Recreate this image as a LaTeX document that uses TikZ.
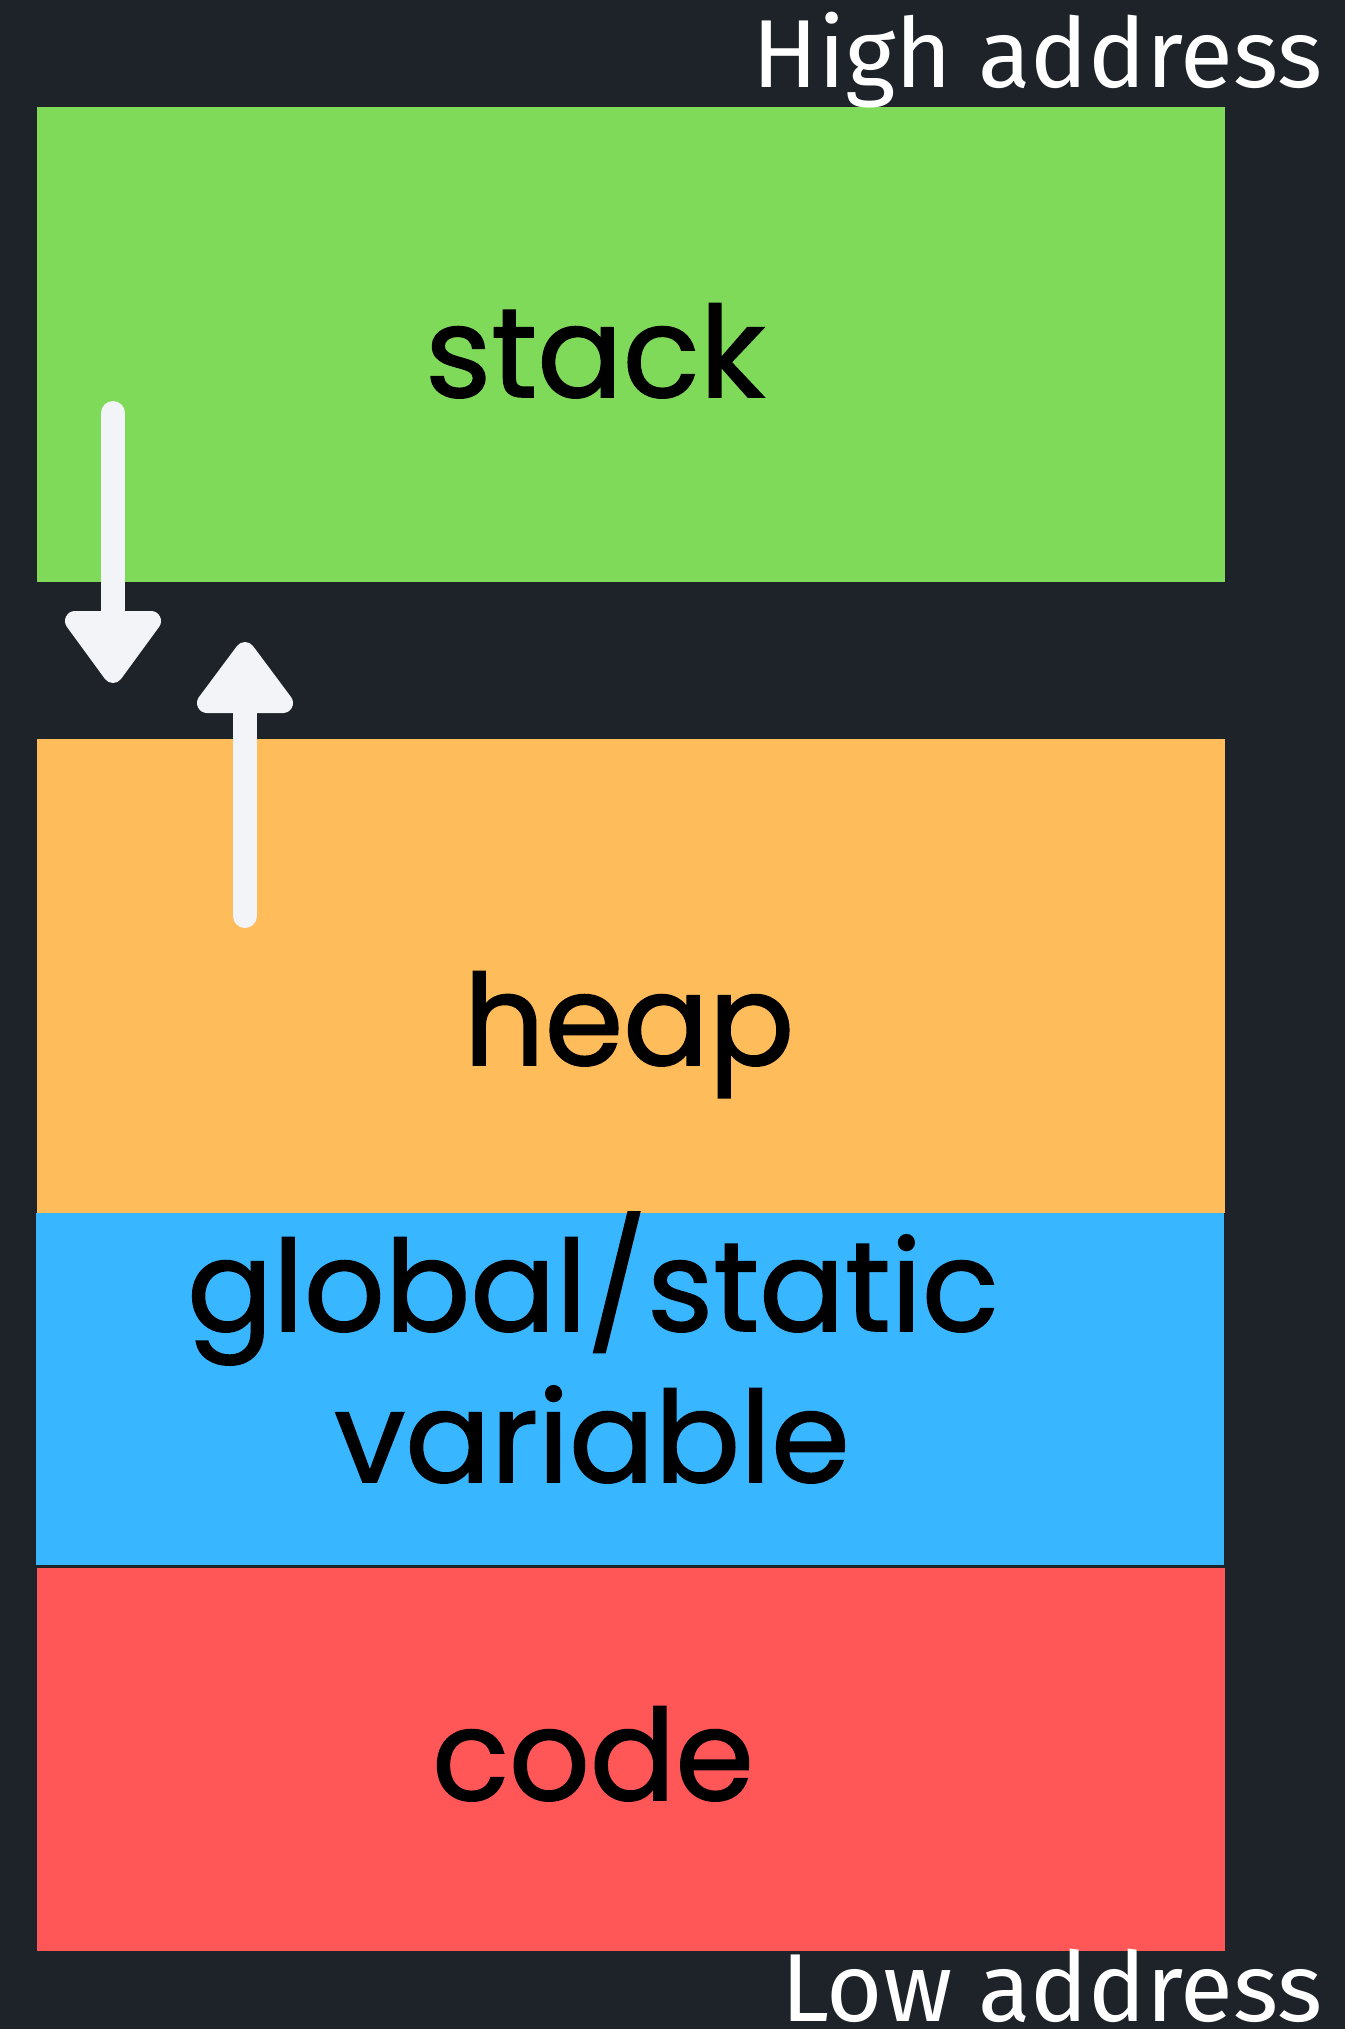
\documentclass[tikz,border=0pt]{standalone}
\usepackage{fontspec}
\newfontfamily\segfont[BoldFont=Poppins, BoldFeatures={FakeBold=1.3}]{Poppins}
\newfontfamily\addrfont{Fira Sans}

\definecolor{bgdark}{HTML}{1E2329}
\definecolor{stackgreen}{HTML}{80DA5A}
\definecolor{heaporange}{HTML}{FEBC5B}
\definecolor{globalblue}{HTML}{38B6FF}
\definecolor{codered}{HTML}{FF5757}
\definecolor{arrowwhite}{HTML}{F3F4F8}

\tikzset{%
  seglabel/.style={anchor=base, text=black, inner sep=0pt,
    font=\segfont\bfseries\fontsize{72}{76}\selectfont},%
  addrlabel/.style={anchor=base east, text=white, inner sep=0pt,
    font=\addrfont\fontsize{55}{60}\selectfont},%
  growline/.style={draw=arrowwhite, line width=0.48cm, line cap=round},%
  growhead/.style={fill=arrowwhite, draw=arrowwhite, line width=0.4cm,
    line join=round}%
}

\begin{document}
\begin{tikzpicture}[x=0.02cm, y=-0.02cm]
  \fill[bgdark] (0,0) rectangle (1345,2029);
  \useasboundingbox (0,0) rectangle (1345,2029);

  % memory segments
  \fill[stackgreen]  (37, 107) rectangle (1225, 582);
  \fill[heaporange]  (37, 739) rectangle (1225,1213);
  \fill[globalblue]  (36,1213) rectangle (1224,1565);
  \fill[codered]     (37,1568) rectangle (1225,1951);

  \node[seglabel] (stacklbl)  at (595, 397) {stack};
  \node[seglabel] (heaplbl)   at (629,1065) {heap};
  \node[seglabel] (globallbl) at (593,1331) {global/static};
  \node[seglabel] (varlbl)    at (592,1482) {variable};
  \node[seglabel] (codelbl)   at (593,1800) {code};

  \node[addrlabel] (highlbl) at (1323,  87) {High address};
  \node[addrlabel] (lowlbl)  at (1323,2021) {Low address};

  % stack grows down
  \coordinate (stacktail) at (113,413);
  \coordinate (stackhead) at (113,625);
  \draw[growline] (stacktail) -- (stackhead);
  \filldraw[growhead] (75,621) -- (151,621) -- (113,673) -- cycle;

  % heap grows up
  \coordinate (heaptail) at (245,916);
  \coordinate (heaphead) at (245,700);
  \draw[growline] (heaptail) -- (heaphead);
  \filldraw[growhead] (207,703) -- (283,703) -- (245,652) -- cycle;

\end{tikzpicture}
\end{document}
